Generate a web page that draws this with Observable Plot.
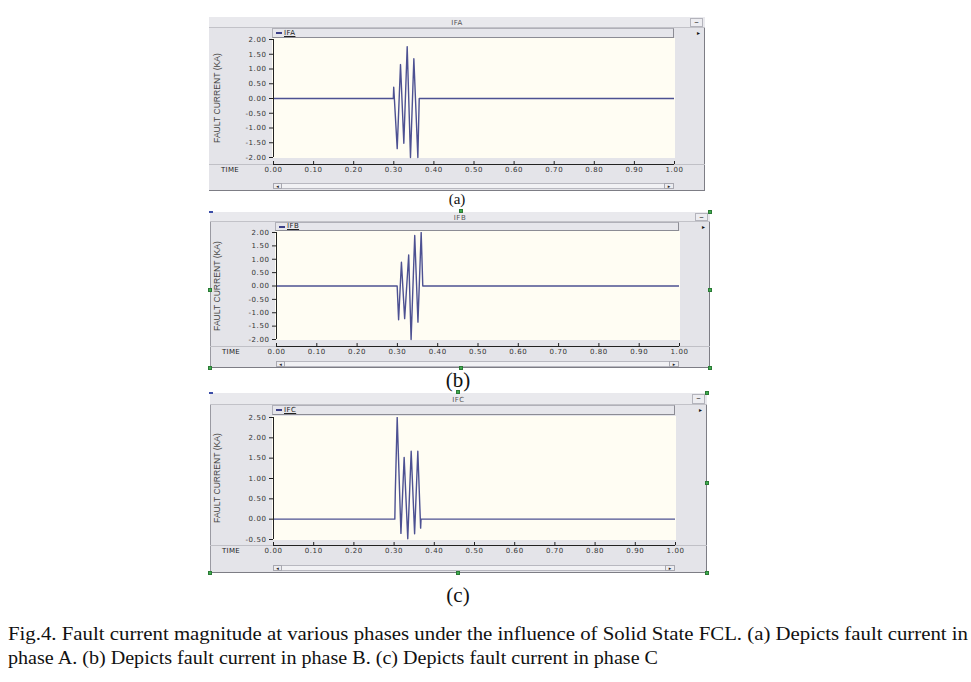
<!DOCTYPE html>
<html><head><meta charset="utf-8">
<script src="https://cdn.jsdelivr.net/npm/d3@7"></script>
<script src="https://cdn.jsdelivr.net/npm/@observablehq/plot@0.6"></script>
<style>
body{margin:0;background:#fff;}
#page{position:relative;width:971px;height:682px;overflow:hidden;background:#fff;font-family:"DejaVu Sans",sans-serif;}
.a{position:absolute;box-sizing:border-box;}
svg text{letter-spacing:0.6px;}
.cap{position:absolute;left:8px;font-family:"Liberation Serif",serif;font-size:19px;line-height:19px;white-space:nowrap;color:#111;transform-origin:0 0;}
.sub{position:absolute;font-family:"Liberation Serif",serif;font-size:21px;line-height:21px;color:#111;transform:translateX(-50%);}
</style></head><body><div id="page"></div>
<script>
// ---- data ----
const timeTicks = [0, 0.1, 0.2, 0.3, 0.4, 0.5, 0.6, 0.7, 0.8, 0.9, 1.0];
const ticksAB = [-2, -1.5, -1, -0.5, 0, 0.5, 1, 1.5, 2];
const ticksC = [-0.5, 0, 0.5, 1, 1.5, 2, 2.5];

const timeA = [0, 0.2988, 0.2998, 0.3085, 0.3167, 0.3250, 0.3334, 0.3416, 0.3500, 0.3600, 0.3634, 1.0];
const ifa   = [0, 0,      0.38,   -1.70,  1.15,   -1.52,  1.76,   -2.00,  1.35,   -2.00,  0,      0];

const timeB = [0, 0.2994, 0.3030, 0.3100, 0.3180, 0.3280, 0.3340, 0.3430, 0.3510, 0.3590, 0.3630, 1.0];
const ifb   = [0, 0,      -1.26,  0.89,   -1.22,  1.16,   -2.00,  1.89,   -1.35,  2.00,   0,      0];

const timeC = [0, 0.3018, 0.3030, 0.3077, 0.3170, 0.3250, 0.3340, 0.3425, 0.3510, 0.3590, 0.3660, 0.3670, 1.0];
const ifc   = [0, 0,      0.68,   2.50,   -0.35,  1.52,   -0.48,  1.67,   -0.36,  1.67,   -0.22,  0,      0];

const seriesNames = ["IFA", "IFB", "IFC"];
const subLabels = ["(a)", "(b)", "(c)"];
const yLabel = "FAULT CURRENT (KA)";
const xLabel = "TIME";
const captionLines = [
  "Fig.4. Fault current magnitude at various phases under the influence of Solid State FCL. (a) Depicts fault current in",
  "phase A. (b) Depicts fault current in phase B. (c) Depicts fault current in phase C"
];

// ---- layout ----
const panels = [
  {name: seriesNames[0], t: timeA, v: ifa, yDomain: [-2, 2], yTicks: ticksAB,
   f: {l: 209, r: 705, t: 17, b: 191}, titleB: 28, legB: 38, p: {l: 273, r: 674, t: 39, b: 157}, axis: 164, scroll: [183, 189], leftBorder: false, handles: []},
  {name: seriesNames[1], t: timeB, v: ifb, yDomain: [-2, 2], yTicks: ticksAB,
   f: {l: 210, r: 710, t: 212, b: 368}, titleB: 222, legB: 231, p: {l: 276, r: 679, t: 232, b: 339}, axis: 346, scroll: [361, 367], leftBorder: true,
   handles: [[210, 290], [710, 290], [461, 211], [710, 212], [210, 368], [461, 368], [710, 368]]},
  {name: seriesNames[2], t: timeC, v: ifc, yDomain: [-0.5, 2.5], yTicks: ticksC,
   f: {l: 210, r: 707, t: 393, b: 573}, titleB: 405, legB: 415, p: {l: 273, r: 675, t: 417, b: 539}, axis: 545, scroll: [565, 571], leftBorder: true,
   handles: [[458, 392], [707, 393], [707, 483], [210, 573], [458, 573], [707, 573]]}
];

const page = document.getElementById("page");
function box(x, y, w, h, css, html) {
  const d = document.createElement("div");
  d.className = "a";
  d.style.cssText = `left:${x}px;top:${y}px;width:${w}px;height:${h}px;` + (css || "");
  if (html != null) d.innerHTML = html;
  page.appendChild(d);
  return d;
}

panels.forEach((P) => {
  const {f, p} = P;
  const W = f.r - f.l, H = f.b - f.t;
  // frame
  box(f.l, f.t, W, H, `background:#e4e4e9;border-right:1px solid #7d7d85;border-bottom:1px solid #7d7d85;` + (P.leftBorder ? "border-left:1px solid #9a9aa2;" : ""));
  // title bar
  box(f.l, f.t, W, P.titleB - f.t, "background:#e9e9ed;border-bottom:1px solid #c2c2c8;");
  box(f.l, f.t + 2, W, P.titleB - f.t - 2, "font-size:7px;line-height:" + (P.titleB - f.t - 2) + "px;text-align:center;color:#555;letter-spacing:.5px;", P.name);
  box(f.r - 15, f.t + 1, 13, P.titleB - f.t - 2, "background:#ededf1;border:1px solid #b4b4bc;font-size:9px;line-height:6px;text-align:center;color:#333;", "&#8211;");
  box(f.r - 8, P.titleB + 2, 6, 6, "font-size:6px;line-height:6px;color:#111;", "&#9656;");
  // legend bar
  box(p.l - 1, P.titleB, p.r - p.l + 1, P.legB - P.titleB, "background:#e6e6eb;border:1px solid #b0b0b8;border-right-color:#8c8c94;border-bottom-color:#8c8c94;");
  box(p.l + 3, P.titleB + 4, 6, 2, "background:#3c4088;");
  box(p.l + 11, P.titleB, 30, P.legB - P.titleB, "font-size:7px;line-height:" + (P.legB - P.titleB) + "px;color:#222;text-decoration:underline;letter-spacing:.4px;", P.name);
  // separator at axis row
  box(f.l, P.axis, W, 1, "background:#c0c0c6;");
  // TIME label
  box(f.l + 12, P.axis + 2, 30, 9, "font-size:7px;line-height:9px;color:#222;letter-spacing:.3px;", xLabel);
  // y label
  const yc = (p.t + p.b) / 2;
  box(217 - 60, yc - 6, 120, 12, "font-family:'Liberation Sans',sans-serif;font-size:8.6px;line-height:12px;text-align:center;color:#444;transform:rotate(-90deg);", yLabel);
  // scrollbar
  const [s0, s1] = P.scroll;
  box(p.l, s0, p.r - p.l, s1 - s0, "background:#f1f1f4;border:1px solid #b8b8c0;");
  box(p.l, s0, 9, s1 - s0, "background:#ececf0;border:1px solid #a8a8b0;font-size:5px;line-height:5px;text-align:center;color:#222;", "&#9666;");
  box(p.r - 10, s0, 10, s1 - s0, "background:#ececf0;border:1px solid #a8a8b0;font-size:5px;line-height:5px;text-align:center;color:#222;", "&#9656;");
  // selection handles
  P.handles.forEach(([hx, hy]) => box(hx - 2, hy - 2, 4, 4, "background:#3fae4f;border:1px solid #2c7a36;"));
  if (P.leftBorder) box(f.l - 1, f.t - 1, 4, 2, "background:#3c4ea8;");

  // ---- Plot ----
  const svgTop = P.titleB;
  const svgBottom = s0 - 1;
  const data = P.t.map((t, i) => ({t, v: P.v[i]}));
  const cream = [{x1: timeTicks[0], x2: timeTicks[timeTicks.length - 1], y1: P.yDomain[0], y2: P.yDomain[1]}];
  const insetB = P.axis - p.b;
  const chart = Plot.plot({
    width: W,
    height: svgBottom - svgTop,
    marginLeft: p.l - f.l,
    marginRight: f.r - p.r,
    marginTop: p.t - svgTop,
    marginBottom: svgBottom - P.axis,
    insetBottom: insetB,
    style: {background: "transparent", overflow: "visible", fontFamily: "DejaVu Sans, sans-serif", color: "#333"},
    x: {domain: [0, 1]},
    y: {domain: P.yDomain},
    marks: [
      Plot.rect(cream, {x1: "x1", x2: "x2", y1: "y1", y2: "y2", fill: "#fffdf3", inset: -1}),
      Plot.line(data, {x: "t", y: "v", stroke: "#4d5192", strokeWidth: 1.4, clip: true}),
      Plot.ruleX([0], {y1: P.yDomain[0], y2: P.yDomain[1], stroke: "#222"}),
      Plot.ruleY([P.yDomain[0]], {dy: insetB, stroke: "#222"}),
      Plot.tickX(timeTicks, {x: (d) => d, insetTop: (P.axis - p.t) - 3, stroke: "#222"}),
      Plot.axisX({ticks: timeTicks, tickSize: 0, tickPadding: 3, tickFormat: (d) => d.toFixed(2), fontSize: 7, label: null}),
      Plot.axisY({ticks: P.yTicks, tickSize: 4, tickPadding: 3, tickFormat: (d) => d.toFixed(2), fontSize: 7, label: null, stroke: "#222"})
    ]
  });
  chart.style.position = "absolute";
  chart.style.left = f.l + "px";
  chart.style.top = svgTop + "px";
  page.appendChild(chart);
});

// sub labels
[[457, 192, subLabels[0], 15], [458, 370, subLabels[1], 21], [458, 585, subLabels[2], 21]].forEach(([x, y, s, fs]) => {
  const d = document.createElement("div");
  d.className = "sub"; d.style.left = x + "px"; d.style.top = y + "px";
  d.style.fontSize = fs + "px"; d.style.lineHeight = fs + "px";
  d.textContent = s;
  page.appendChild(d);
});

// caption
const capTargets = [[624, 960], [648, 650]];
captionLines.forEach((txt, i) => {
  const d = document.createElement("div");
  d.className = "cap";
  d.style.top = capTargets[i][0] + "px";
  d.textContent = txt;
  page.appendChild(d);
  const w = d.getBoundingClientRect().width;
  d.style.transform = `scaleX(${capTargets[i][1] / w})`;
});
</script>
</body></html>
